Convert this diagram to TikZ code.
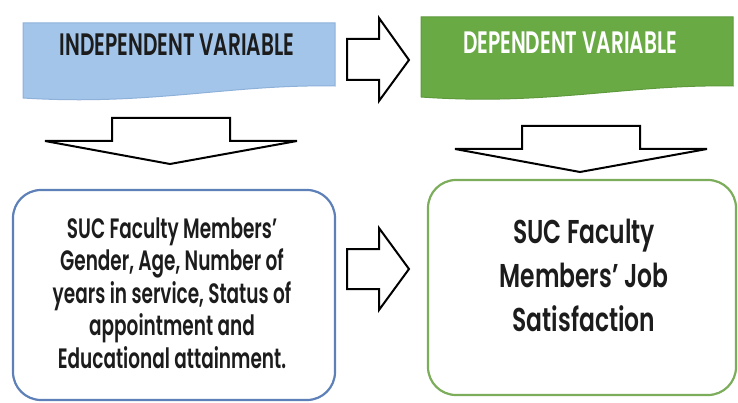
\documentclass[tikz,border=0pt]{standalone}
\usepackage{fontspec}
\setmainfont{Poppins}[FakeStretch=0.66, BoldFont={Poppins SemiBold}]
\newfontfamily\headfont{Poppins}[FakeStretch=0.65, BoldFont={Poppins SemiBold}]
\newfontfamily\dvfont{Poppins}[FakeStretch=0.71, BoldFont={Poppins SemiBold}]
\usepackage{tikz}
\definecolor{ivblue}{HTML}{A3C5EA}
\definecolor{ivedge}{HTML}{8EB1DA}
\definecolor{dvgreen}{HTML}{6AAA45}
\definecolor{dvedge}{HTML}{5E9A3C}
\definecolor{boxblue}{HTML}{5D80B8}
\definecolor{boxgreen}{HTML}{7CAD5A}
\definecolor{inkgrey}{HTML}{1C1C1C}
\tikzstyle{header}=[line width=1pt]
\tikzstyle{header text}=[inner sep=0pt, font=\headfont\bfseries\fontsize{31}{31}\selectfont]
\tikzstyle{body text}=[inner sep=0pt, align=center, text=inkgrey]
\tikzstyle{block arrow}=[draw=black, fill=white, line width=2pt, line join=miter]
\tikzstyle{round box}=[draw, fill=white, line width=2.2pt, rounded corners=28pt, shape=rectangle]

\begin{document}
\begin{tikzpicture}[x=1pt, y=-1pt]
	\useasboundingbox (0,0) rectangle (738,403);
	% headers
	\draw [style=header, fill=ivblue, draw=ivedge] (23,23) -- (335,23) -- (335,86)
		.. controls (230,84) and (150,106) .. (23,98) -- cycle;
	\draw [style=header, fill=dvgreen, draw=dvedge] (421,17) -- (733,17) -- (733,86)
		.. controls (628,84) and (548,106) .. (421,97) -- cycle;
	\node [style=header text, text=inkgrey] (ivlabel) at (177,45) {INDEPENDENT VARIABLE};
	\node [style=header text, text=white] (dvlabel) at (570,43) {DEPENDENT VARIABLE};
	% boxes
	\node [style=round box, draw=boxblue, minimum width=322pt, minimum height=210pt] (ivbox) at (174,295) {};
	\node [style=round box, draw=boxgreen, minimum width=308pt, minimum height=215pt] (dvbox) at (582,287.5) {};
	\node [style=body text, font=\bfseries\fontsize{28}{32.5}\selectfont] (ivtext) at (172,293)
		{SUC Faculty Members’\\Gender, Age, Number of\\years in service, Status of\\appointment and\\Educational attainment.};
	\node [style=body text, font=\dvfont\bfseries\fontsize{33}{44}\selectfont] (dvtext) at (584,275)
		{SUC Faculty\\Members’ Job\\Satisfaction};
	% block arrows
	\draw [style=block arrow] (347,39) -- (379,39) -- (379,18) -- (409,60) -- (379,101) -- (379,80) -- (347,80) -- cycle;
	\draw [style=block arrow] (347,249) -- (379,249) -- (379,228) -- (409,269) -- (379,310) -- (379,289) -- (347,289) -- cycle;
	\draw [style=block arrow] (112,118) -- (230,118) -- (230,141) -- (297,141) -- (170,164) -- (45,141) -- (112,141) -- cycle;
	\draw [style=block arrow] (522,126) -- (640,126) -- (640,149) -- (707,149) -- (580,172) -- (455,149) -- (522,149) -- cycle;
\end{tikzpicture}
\end{document}
